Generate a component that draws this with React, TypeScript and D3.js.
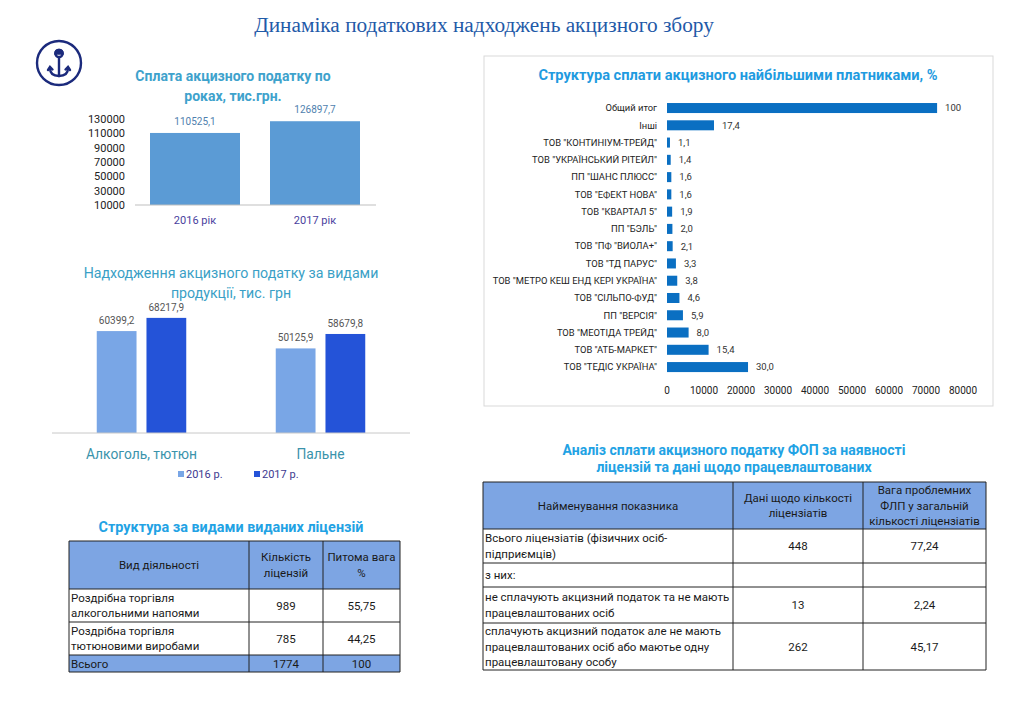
import React from "react";
import * as d3 from "d3";

// chart 1: сплата по роках
const yearLabels = ["2016 рік", "2017 рік"];
const yearTotals = [110525.1, 126897.7];
const totalTicks = [10000, 30000, 50000, 70000, 90000, 110000, 130000];

// chart 2: за видами продукції
const productCats = ["Алкоголь, тютюн", "Пальне"];
const productYears = ["2016 р.", "2017 р."];
const product2016 = [60399.2, 50125.9];
const product2017 = [68217.9, 58679.8];

// chart 3: найбільші платники
const payerNames = [
  "Общий итог",
  "Інші",
  'ТОВ "КОНТИНІУМ-ТРЕЙД"',
  'ТОВ "УКРАЇНСЬКИЙ РІТЕЙЛ"',
  'ПП "ШАНС ПЛЮСС"',
  'ТОВ "ЕФЕКТ НОВА"',
  'ТОВ "КВАРТАЛ 5"',
  'ПП "БЭЛЬ"',
  'ТОВ "ПФ "ВИОЛА+"',
  'ТОВ "ТД ПАРУС"',
  'ТОВ "МЕТРО КЕШ ЕНД КЕРІ УКРАЇНА"',
  'ТОВ "СІЛЬПО-ФУД"',
  'ПП "ВЕРСІЯ"',
  'ТОВ "МЕОТІДА ТРЕЙД"',
  'ТОВ "АТБ-МАРКЕТ"',
  'ТОВ "ТЕДІС УКРАЇНА"',
];
const payerAmounts = [
  73000, 12700, 800, 1000, 1170, 1170, 1390, 1460, 1530, 2410, 2770, 3360,
  4310, 5840, 11240, 21900,
];
const payerShares = [
  "100", "17,4", "1,1", "1,4", "1,6", "1,6", "1,9", "2,0", "2,1", "3,3",
  "3,8", "4,6", "5,9", "8,0", "15,4", "30,0",
];
const payerTicks = [0, 10000, 20000, 30000, 40000, 50000, 60000, 70000, 80000];

// table 1
const licenseHeader = [["Вид діяльності"], ["Кількість", "ліцензій"], ["Питома вага", "%"]];
const licenseRows = [
  [["Роздрібна торгівля", "алкогольними напоями"], ["989"], ["55,75"]],
  [["Роздрібна торгівля", "тютюновими виробами"], ["785"], ["44,25"]],
  [["Всього"], ["1774"], ["100"]],
];

// table 2
const fopHeader = [
  ["Найменування показника"],
  ["Дані щодо кількості", "ліцензіатів"],
  ["Вага проблемних", "ФЛП у загальній", "кількості ліцензіатів"],
];
const fopRows = [
  [["Всього ліцензіатів (фізичних осіб-", "підприємців)"], ["448"], ["77,24"]],
  [["з них:"], [], []],
  [["не сплачують акцизний податок та не мають", "працевлаштованих осіб"], ["13"], ["2,24"]],
  [
    ["сплачують акцизний податок але не мають", "працевлаштованих осіб або маютье одну", "працевлаштовану особу"],
    ["262"],
    ["45,17"],
  ],
];

const SANS = "Roboto, 'Open Sans', sans-serif";
const fmt = (v: number) => v.toFixed(1).replace(".", ",");

function Table({ cols, rows, header, body, fillRows, lh }) {
  const all = [header, ...body];
  return (
    <g fontFamily={SANS} fontSize={11.5} fill="#1a1a1a">
      {all.map((row, r) => {
        const y0 = rows[r];
        const y1 = rows[r + 1];
        const cy = (y0 + y1) / 2;
        const filled = fillRows.includes(r);
        return (
          <g key={r}>
            {filled && (
              <rect x={cols[0]} y={y0} width={cols[cols.length - 1] - cols[0]} height={y1 - y0} fill="#7da5e3" />
            )}
            {row.map((lines, c) => {
              const left = r > 0 && c === 0;
              const x = left ? cols[0] + 2 : (cols[c] + cols[c + 1]) / 2;
              return lines.map((t, i) => (
                <text
                  key={c + "-" + i}
                  x={x}
                  y={cy + (i - (lines.length - 1) / 2) * lh}
                  dy="0.35em"
                  textAnchor={left ? "start" : "middle"}
                >
                  {t}
                </text>
              ));
            })}
          </g>
        );
      })}
      {rows.map((y, i) => (
        <line key={"h" + i} x1={cols[0]} x2={cols[cols.length - 1]} y1={y} y2={y} stroke="#222" strokeWidth={1} />
      ))}
      {cols.map((x, i) => (
        <line key={"v" + i} x1={x} x2={x} y1={rows[0]} y2={rows[rows.length - 1]} stroke="#222" strokeWidth={1} />
      ))}
    </g>
  );
}

export default function App() {
  // chart 1 scales
  const y1 = d3.scaleLinear().domain([10000, 130000]).range([205, 119]);
  const x1 = d3.scaleBand().domain(yearLabels).range([135, 375]).paddingInner(0.25).paddingOuter(0.125);

  // chart 2 scales
  const x2 = d3.scaleBand().domain(productCats).range([52, 410]);
  const x2in = d3
    .scaleBand()
    .domain(productYears)
    .range([x2.bandwidth() * 0.25, x2.bandwidth() * 0.75])
    .paddingInner(0.2);
  const y2 = d3.scaleLinear().domain([0, 80000]).range([433, 298]);
  const c2 = d3.scaleOrdinal<string>().domain(productYears).range(["#79a6e6", "#2453d8"]);
  const productVals = [product2016, product2017];

  // chart 3 scales
  const x3 = d3.scaleLinear().domain([0, 80000]).range([667, 963]);
  const y3 = d3.scaleBand().domain(payerNames).range([99.4, 375.7]).paddingInner(0.42).paddingOuter(0.21);

  return (
    <div style={{ position: "absolute", left: 0, top: 0 }}>
      <svg width={1024} height={708} style={{ display: "block", background: "#fff" }}>
        {/* main title */}
        <text x={484} y={32} textAnchor="middle" fontFamily="'Liberation Serif', 'DejaVu Serif', serif" fontSize={21.3} fill="#1f5aa8">
          Динаміка податкових надходжень акцизного збору
        </text>

        {/* anchor logo */}
        <g stroke="#1b2a7c" fill="none" strokeWidth={2.4} strokeLinecap="round">
          <circle cx={59} cy={63} r={22} />
          <circle cx={59} cy={53.5} r={3.6} />
          <path d="M55.4,53.5 A3.6,3.6 0 0 1 62.6,53.5 Z" fill="#1b2a7c" />
          <line x1={59} y1={57} x2={59} y2={76} />
          <path d="M50,68 Q50,76 59,76 Q68,76 68,68" />
          <path d="M48,70 L50,67 L52.5,69.5" />
          <path d="M65.5,69.5 L68,67 L70,70" />
        </g>

        {/* chart 1 */}
        <g fontFamily={SANS}>
          <text x={233} y={81} textAnchor="middle" fontSize={14} fontWeight="bold" fill="#3ea2cc">
            Сплата акцизного податку по
          </text>
          <text x={233} y={101} textAnchor="middle" fontSize={14} fontWeight="bold" fill="#3ea2cc">
            роках, тис.грн.
          </text>
          {totalTicks.map((t) => (
            <text key={t} x={125} y={y1(t)} dy="0.35em" textAnchor="end" fontSize={11} fill="#222">
              {t}
            </text>
          ))}
          {yearLabels.map((c, i) => (
            <g key={c}>
              <rect
                x={x1(c)}
                y={y1(yearTotals[i])}
                width={x1.bandwidth()}
                height={y1(10000) - y1(yearTotals[i])}
                fill="#5b9bd5"
              />
              <text x={x1(c) + x1.bandwidth() / 2} y={y1(yearTotals[i]) - 8} textAnchor="middle" fontSize={10} fill="#4f7fae">
                {fmt(yearTotals[i])}
              </text>
              <text x={x1(c) + x1.bandwidth() / 2} y={224} textAnchor="middle" fontSize={11} fill="#4a3f9e">
                {c}
              </text>
            </g>
          ))}
          <line x1={135} x2={376} y1={y1(10000)} y2={y1(10000)} stroke="#bfbfbf" strokeWidth={1} />
        </g>

        {/* chart 2 */}
        <g fontFamily={SANS}>
          <text x={231} y={278} textAnchor="middle" fontSize={14.2} fill="#3a9fc6">
            Надходження акцизного податку за видами
          </text>
          <text x={231} y={298} textAnchor="middle" fontSize={14.2} fill="#3a9fc6">
            продукції, тис. грн
          </text>
          {productCats.map((c, i) => (
            <g key={c} transform={`translate(${x2(c)},0)`}>
              {productYears.map((yr, j) => {
                const v = productVals[j][i];
                const bx = x2in(yr);
                return (
                  <g key={yr}>
                    <rect x={bx} y={y2(v)} width={x2in.bandwidth()} height={y2(0) - y2(v)} fill={c2(yr)} />
                    <text x={bx + x2in.bandwidth() / 2} y={y2(v) - 7} textAnchor="middle" fontSize={10} fill="#555">
                      {fmt(v)}
                    </text>
                  </g>
                );
              })}
              <text x={x2.bandwidth() / 2} y={459} textAnchor="middle" fontSize={13.8} fill="#3a93ab">
                {c}
              </text>
            </g>
          ))}
          <line x1={52} x2={410} y1={y2(0)} y2={y2(0)} stroke="#c8c8c8" strokeWidth={1} />
          {productYears.map((yr, j) => (
            <g key={yr} transform={`translate(${[178, 254][j]},474)`}>
              <rect x={0} y={-3} width={6} height={6} fill={c2(yr)} />
              <text x={8} y={0} dy="0.35em" fontSize={11} fill="#3d3a90">
                {yr}
              </text>
            </g>
          ))}
        </g>

        {/* chart 3 */}
        <g fontFamily={SANS}>
          <rect x={484} y={56} width={509} height={350} fill="none" stroke="#d9d9d9" strokeWidth={1} />
          <text x={738} y={80} textAnchor="middle" fontSize={14.6} fontWeight="bold" fill="#1f9be0">
            Структура сплати акцизного найбільшими платниками, %
          </text>
          {payerNames.map((n, i) => (
            <g key={n}>
              <text x={657} y={y3(n) + y3.bandwidth() / 2} dy="0.35em" textAnchor="end" fontSize={9.4} fill="#222">
                {n}
              </text>
              <rect x={x3(0)} y={y3(n)} width={x3(payerAmounts[i]) - x3(0)} height={y3.bandwidth()} fill="#0a6fc2" />
              <text x={x3(payerAmounts[i]) + 8} y={y3(n) + y3.bandwidth() / 2} dy="0.35em" fontSize={9.5} fill="#333">
                {payerShares[i]}
              </text>
            </g>
          ))}
          {payerTicks.map((t) => (
            <text key={t} x={x3(t)} y={390} dy="0.35em" textAnchor="middle" fontSize={10} fill="#222">
              {t}
            </text>
          ))}
        </g>

        {/* table 1 */}
        <text x={231} y={532} textAnchor="middle" fontFamily={SANS} fontSize={14.4} fontWeight="bold" fill="#22a2e4">
          Структура за видами виданих ліцензій
        </text>
        <Table
          cols={[69, 249, 323, 400]}
          rows={[541, 589, 622, 655, 672]}
          header={licenseHeader}
          body={licenseRows}
          fillRows={[0, 3]}
          lh={15.5}
        />

        {/* table 2 */}
        <g fontFamily={SANS} fontSize={14} fontWeight="bold" fill="#22a2e4" textAnchor="middle">
          <text x={734} y={455}>Аналіз сплати акцизного податку ФОП за наявності</text>
          <text x={734} y={472}>ліцензій та дані щодо працевлаштованих</text>
        </g>
        <Table
          cols={[483, 733, 863, 986]}
          rows={[482, 529, 563, 587, 623, 670]}
          header={fopHeader}
          body={fopRows}
          fillRows={[0]}
          lh={15.5}
        />
      </svg>
    </div>
  );
}
